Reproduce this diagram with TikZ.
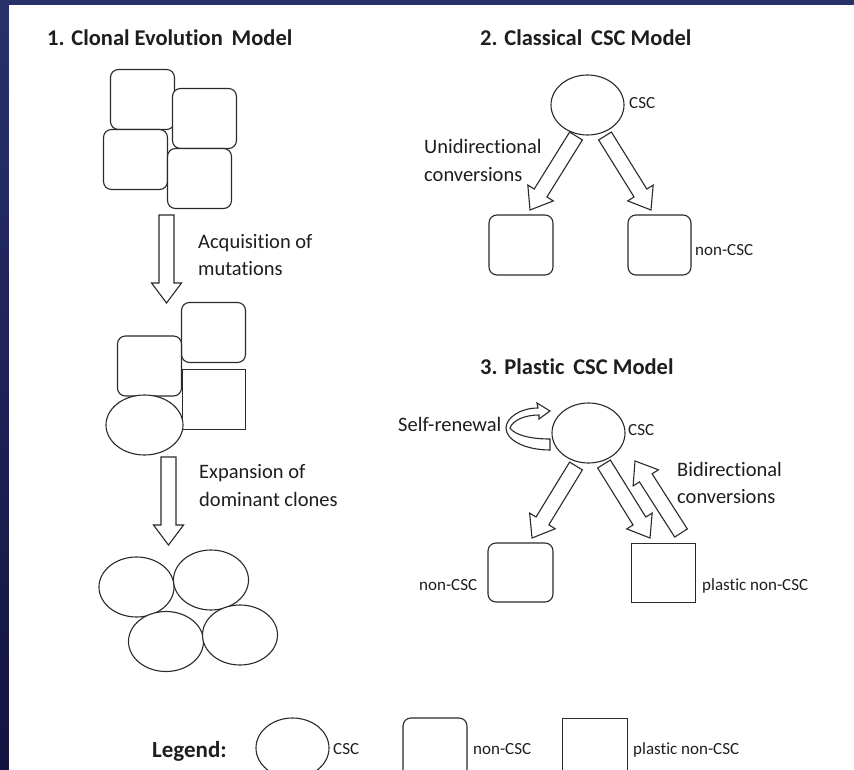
\documentclass[tikz,border=0pt]{standalone}
\usepackage{fontspec}
\setmainfont{Carlito}[Ligatures=NoCommon]
\usetikzlibrary{shapes.geometric,calc}
\definecolor{bgtop}{HTML}{28316C}
\definecolor{bgbot}{HTML}{131340}
\definecolor{linec}{HTML}{2A2A2A}
\definecolor{txt}{HTML}{1E1E1E}
\newcommand\arrSW{7.5pt}
\newcommand\arrHW{15pt}
\newcommand\arrHL{20pt}
\tikzset{
  cell/.style={draw=linec, fill=white, line width=1.1pt, minimum width=64pt, minimum height=60pt, inner sep=0pt, outer sep=0pt},
  roundcell/.style={cell, rounded corners=8pt},
  sqcell/.style={cell, line width=1pt},
  ovcell/.style={cell, ellipse, minimum width=75pt, minimum height=60pt},
  title/.style={anchor=base west, inner sep=0pt, font=\fontsize{22.5}{27}\selectfont\bfseries, text=txt},
  lbl/.style={anchor=base west, inner sep=0pt, font=\fontsize{20.5}{24}\selectfont, text=txt},
  small/.style={anchor=base west, inner sep=0pt, font=\fontsize{17}{20}\selectfont, text=txt},
  hollowarrow/.style={draw=linec, fill=white, line width=1.1pt, line join=miter,
    to path={let \p1=(\tikztostart), \p2=(\tikztotarget),
      \n1={atan2(\y2-\y1,\x2-\x1)}, \n2={veclen(\x2-\x1,\y2-\y1)-\arrHL} in
      ($(\p1)+(\n1+90:\arrSW)$) -- ($(\p1)+(\n1:{\n2*1pt})+(\n1+90:\arrSW)$)
      -- ($(\p1)+(\n1:{\n2*1pt})+(\n1+90:\arrHW)$) -- (\p2)
      -- ($(\p1)+(\n1:{\n2*1pt})+(\n1-90:\arrHW)$) -- ($(\p1)+(\n1:{\n2*1pt})+(\n1-90:\arrSW)$)
      -- ($(\p1)+(\n1-90:\arrSW)$) -- cycle}},
  loopband/.style={draw=linec, fill=white, line width=1.1pt, line join=miter}
}
\begin{document}
\begin{tikzpicture}[x=1pt,y=-1pt]
\useasboundingbox (0,0) rectangle (854,770);
\clip (0,0) rectangle (854,770);
\shade[top color=bgtop, bottom color=bgbot] (0,0) rectangle (854,770);
\fill[white] (9,5) rectangle (854,770);

% ---------- 1. Clonal Evolution Model ----------
\node[title] (t1) at (47,46) {1. Clonal Evolution\, Model};
\node[roundcell] (c1a) at (142.5,99.5) {};
\node[roundcell] (c1b) at (204.5,118.5) {};
\node[roundcell] (c1c) at (135.5,159.5) {};
\node[roundcell] (c1d) at (199.5,178.5) {};

\coordinate (m1s) at (166.5,215);
\coordinate (m1e) at (166.5,303);
\draw[hollowarrow] (m1s) to (m1e);
\node[lbl] (acq1) at (198,248) {Acquisition of};
\node[lbl] (acq2) at (198,276) {mutations};

\node[roundcell] (c2a) at (213.5,332.5) {};
\node[roundcell] (c2b) at (149.5,366) {};
\node[sqcell, minimum width=63pt] (c2c) at (213.5,399) {};
\node[ovcell, minimum width=77pt] (c2d) at (144.5,425) {};

\coordinate (m2s) at (168.5,457);
\coordinate (m2e) at (168.5,545);
\draw[hollowarrow] (m2s) to (m2e);
\node[lbl] (exp1) at (199,478) {Expansion of};
\node[lbl] (exp2) at (199,506) {dominant clones};

\node[ovcell] (c3a) at (136.5,587) {};
\node[ovcell] (c3b) at (211,580) {};
\node[ovcell] (c3c) at (166,641.5) {};
\node[ovcell] (c3d) at (240,635) {};

% ---------- 2. Classical CSC Model ----------
\node[title] (t2) at (480,46) {2. Classical\, CSC Model};
\node[ovcell, minimum width=73pt] (csc2) at (587.5,105) {};
\node[small] (csc2l) at (629,109) {CSC};
\node[roundcell] (n2a) at (521,245) {};
\node[roundcell, minimum width=63pt] (n2b) at (659.5,245) {};
\node[small] (n2l) at (695,255) {non-CSC};
\coordinate (u1s) at (576,136);
\coordinate (u1e) at (530,210);
\coordinate (u2s) at (605,136);
\coordinate (u2e) at (651,210);
\draw[hollowarrow] (u1s) to (u1e);
\draw[hollowarrow] (u2s) to (u2e);
\node[lbl] (uni1) at (424,154) {Unidirectional};
\node[lbl] (uni2) at (424,182) {conversions};

% ---------- 3. Plastic CSC Model ----------
\node[title] (t3) at (480,374) {3. Plastic\, CSC Model};
\node[ovcell, minimum width=73pt] (csc3) at (588.5,433) {};
\node[small] (csc3l) at (628,435) {CSC};
\node[lbl] (self) at (398,431) {Self-renewal};
\draw[loopband] (550,450) .. controls (525,450) and (506,440) .. (506,428)
   .. controls (506,418) and (520,408) .. (538,408) -- (537,403) -- (550,411)
   -- (539,419) -- (539,415) .. controls (525,415) and (513,420) .. (510,428)
   .. controls (515,435) and (530,439) .. (550,439) -- cycle;
\node[roundcell, minimum width=65pt, minimum height=59pt] (n3a) at (520.5,572.5) {};
\node[sqcell, minimum height=59pt] (p3) at (663,572.5) {};
\node[small] (n3l) at (419,590) {non-CSC};
\node[small] (p3l) at (702,590) {plastic non-CSC};
\coordinate (b1s) at (576,466);
\coordinate (b1e) at (532,538);
\coordinate (b2s) at (604,464);
\coordinate (b2e) at (650,538);
\coordinate (b3s) at (681,533);
\coordinate (b3e) at (635,461);
\draw[hollowarrow] (b1s) to (b1e);
\draw[hollowarrow] (b2s) to (b2e);
\draw[hollowarrow] (b3s) to (b3e);
\node[lbl] (bi1) at (677,476) {Bidirectional};
\node[lbl] (bi2) at (677,503) {conversions};

% ---------- Legend ----------
\node[title, font=\fontsize{23}{27}\selectfont\bfseries] (leg) at (152,757) {Legend:};
\node[ovcell, minimum width=73pt] (lcsc) at (292.5,748) {};
\node[small] (lcscl) at (333,754) {CSC};
\node[roundcell] (lnon) at (435,748) {};
\node[small] (lnonl) at (473,754) {non-CSC};
\node[sqcell, minimum width=65pt] (lpl) at (594.5,748) {};
\node[small] (lpll) at (633,754) {plastic non-CSC};
\end{tikzpicture}
\end{document}
